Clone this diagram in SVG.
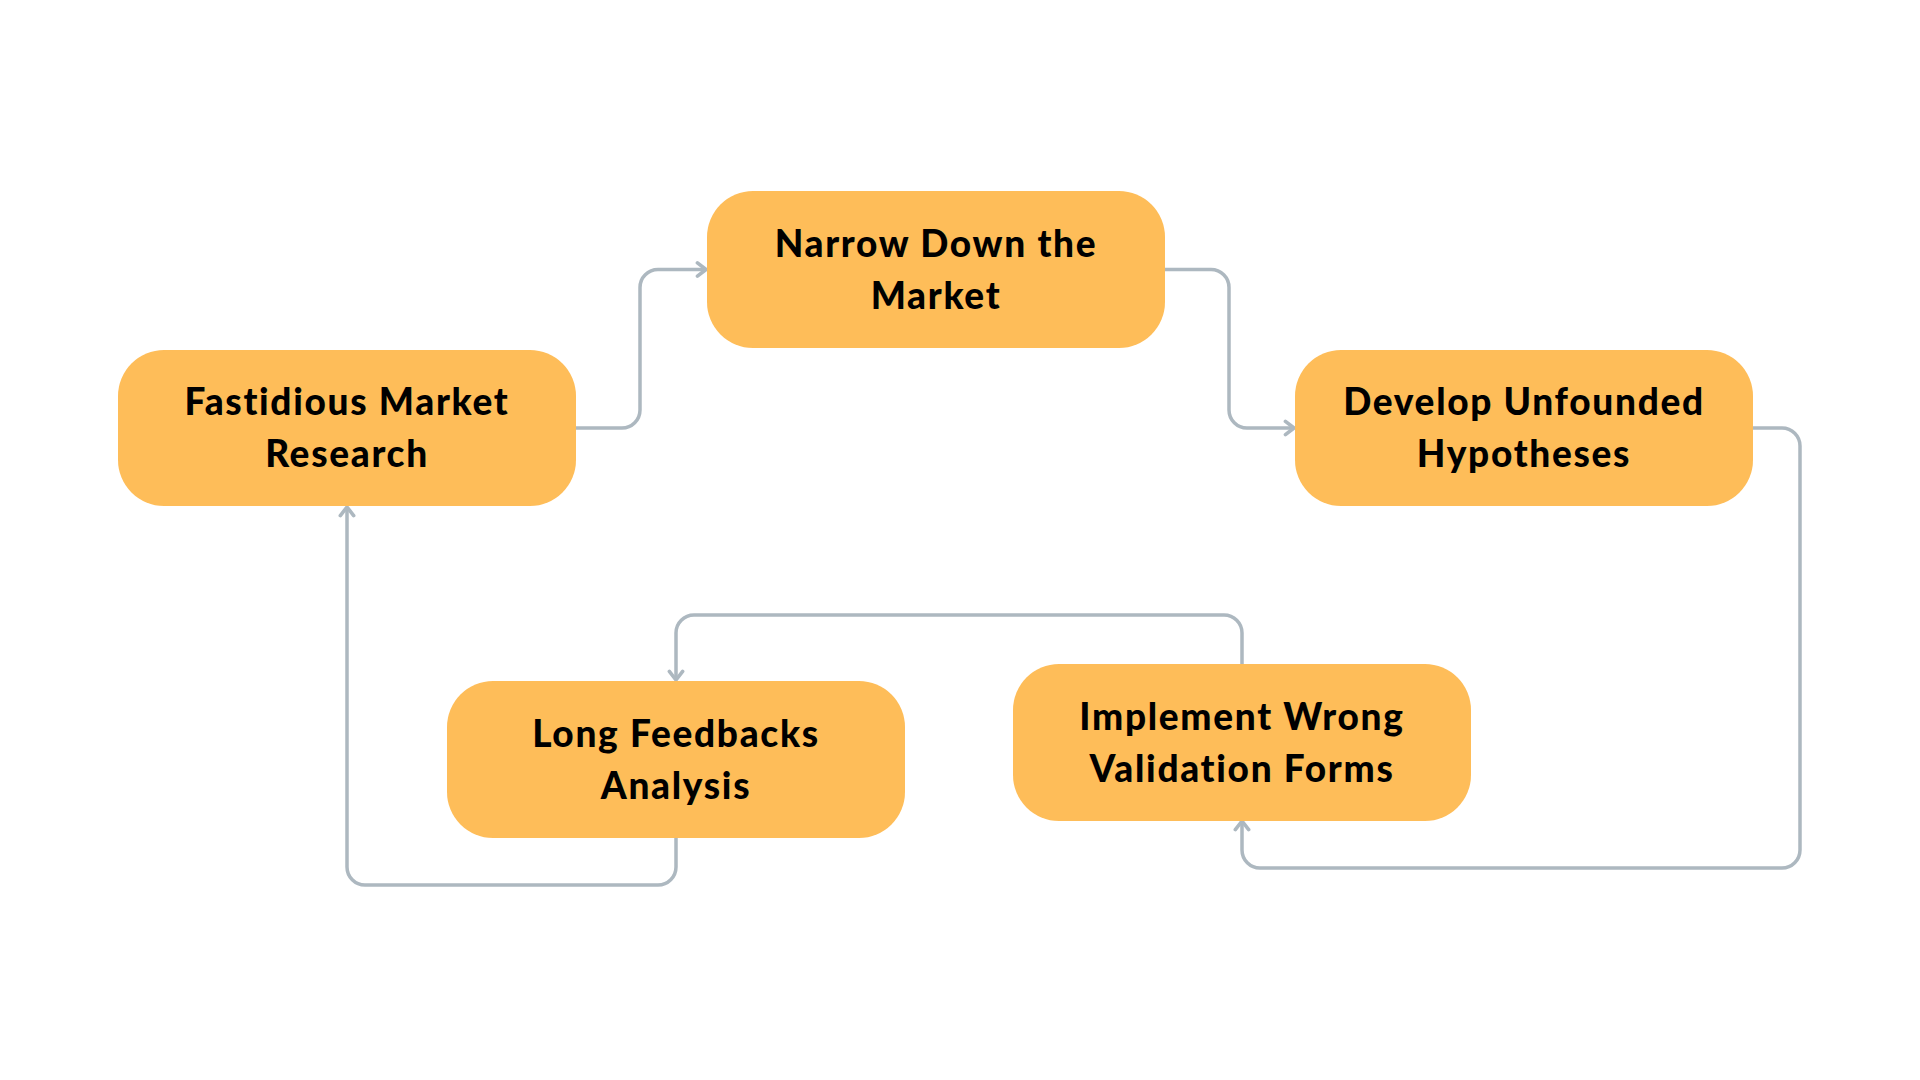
<svg xmlns="http://www.w3.org/2000/svg" width="1920" height="1080" viewBox="0 0 1920 1080">
<defs>
<style>
.box{fill:#FEBD59;}
.lbl{font-family:Lato,"Open Sans",sans-serif;font-weight:900;font-size:37px;letter-spacing:1.7px;fill:#000;text-anchor:middle;}
.conn{fill:none;stroke:#ADB8C0;stroke-width:3.5;marker-end:url(#arr);}
</style>
<marker id="arr" viewBox="0 0 10 10" refX="9" refY="5" markerWidth="19" markerHeight="19" markerUnits="userSpaceOnUse" orient="auto">
<path d="M4.5,1.5 L9,5 L4.5,8.5" fill="none" stroke="#ADB8C0" stroke-width="1.9" stroke-linecap="round" stroke-linejoin="round"/>
</marker>
</defs>
<rect width="1920" height="1080" fill="#fff"/>
<g id="connectors">
<path class="conn" d="M576,428 H622 A18,18 0 0 0 640,410 V287.5 A18,18 0 0 1 658,269.5 H706"/>
<path class="conn" d="M1165,269.5 H1211 A18,18 0 0 1 1229,287.5 V410 A18,18 0 0 0 1247,428 H1294"/>
<path class="conn" d="M1753,428 H1782 A18,18 0 0 1 1800,446 V850 A18,18 0 0 1 1782,868 H1260 A18,18 0 0 1 1242,850 V821"/>
<path class="conn" d="M1242,664 V633 A18,18 0 0 0 1224,615 H694 A18,18 0 0 0 676,633 V680"/>
<path class="conn" d="M676,838 V867 A18,18 0 0 1 658,885 H365 A18,18 0 0 1 347,867 V507"/>
</g>
<g id="node-fastidious">
<rect class="box" x="118" y="350" width="458" height="156" rx="46"/>
<text class="lbl" x="347" y="415">Fastidious Market</text>
<text class="lbl" x="347" y="467">Research</text>
</g>
<g id="node-narrow">
<rect class="box" x="707" y="191" width="458" height="157" rx="46"/>
<text class="lbl" x="936" y="256.5">Narrow Down the</text>
<text class="lbl" x="936" y="308.5">Market</text>
</g>
<g id="node-develop">
<rect class="box" x="1295" y="350" width="458" height="156" rx="46"/>
<text class="lbl" x="1524" y="415">Develop Unfounded</text>
<text class="lbl" x="1524" y="467">Hypotheses</text>
</g>
<g id="node-long">
<rect class="box" x="447" y="681" width="458" height="157" rx="46"/>
<text class="lbl" x="676" y="746.5">Long Feedbacks</text>
<text class="lbl" x="676" y="798.5">Analysis</text>
</g>
<g id="node-implement">
<rect class="box" x="1013" y="664" width="458" height="157" rx="46"/>
<text class="lbl" x="1242" y="729.5">Implement Wrong</text>
<text class="lbl" x="1242" y="781.5">Validation Forms</text>
</g>
</svg>
